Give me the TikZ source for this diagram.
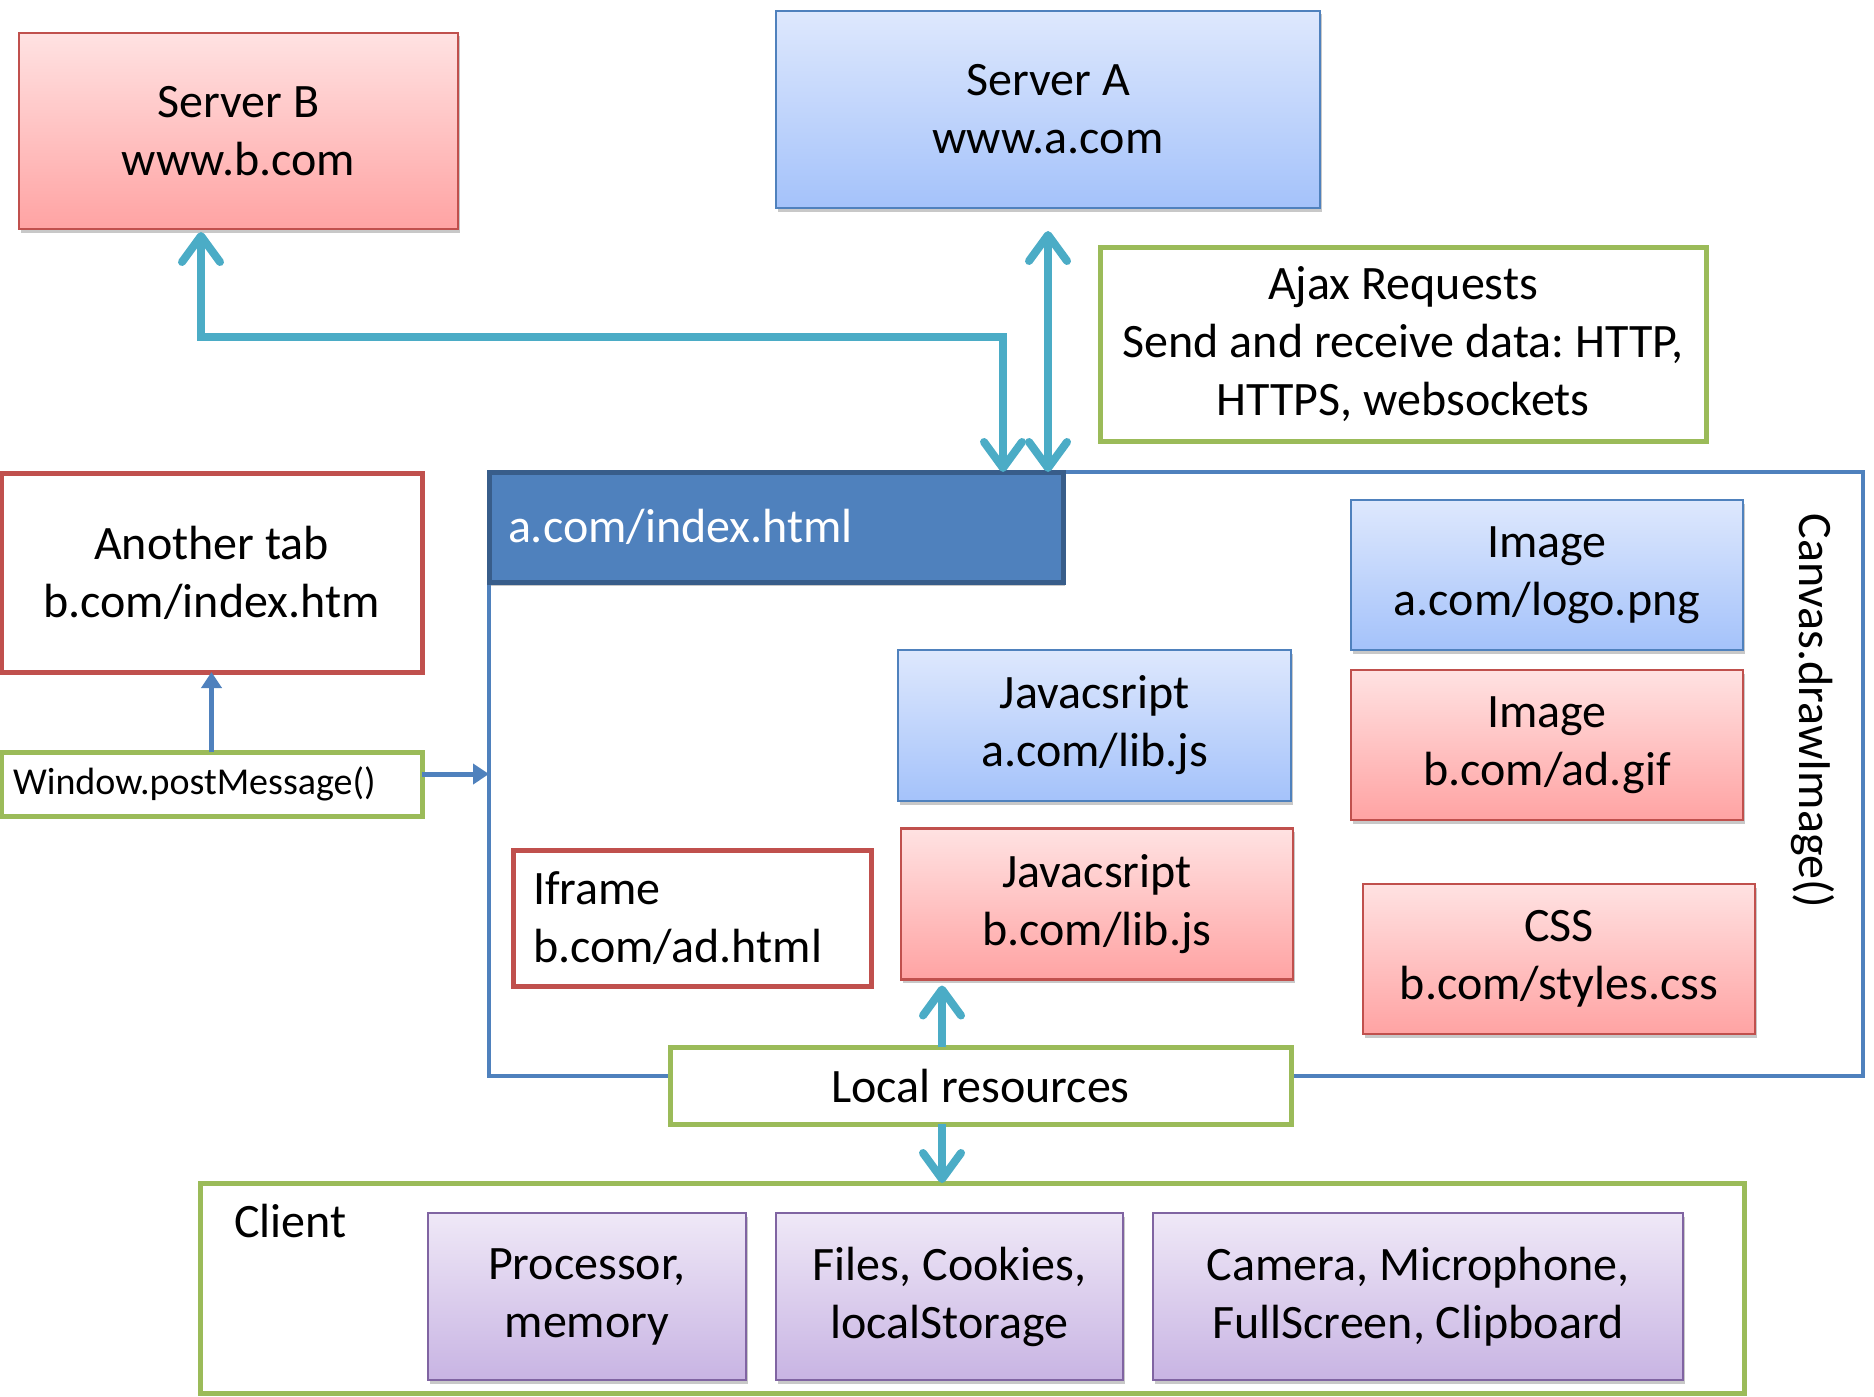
\documentclass[tikz,border=0pt]{standalone}
\usepackage{fontspec}
\setmainfont{Carlito}
\frenchspacing
\usetikzlibrary{arrows.meta,shadows}
\definecolor{redB}{HTML}{C0504D}
\definecolor{blueB}{HTML}{4F81BD}
\definecolor{blueD}{HTML}{385D8A}
\definecolor{greenB}{HTML}{9BBB59}
\definecolor{purpleB}{HTML}{8064A2}
\definecolor{cyanA}{HTML}{4BACC6}
\definecolor{redTop}{HTML}{FFE2E2}
\definecolor{redBot}{HTML}{FFA3A3}
\definecolor{blueTop}{HTML}{DEE8FD}
\definecolor{blueBot}{HTML}{A4C2FA}
\definecolor{purTop}{HTML}{EFE8F7}
\definecolor{purBot}{HTML}{C8B4E3}
\tikzset{
  base/.style={inner sep=0pt, outer sep=0pt, align=center, font=\fontsize{48}{58}\selectfont},
  shad/.style={drop shadow={shadow xshift=1.5pt, shadow yshift=-3.5pt, opacity=0.3, fill=black!70}},
  redgrad/.style={base, shad, draw=redB, line width=2.5pt, top color=redTop, bottom color=redBot},
  bluegrad/.style={base, shad, draw=blueB, line width=2.5pt, top color=blueTop, bottom color=blueBot},
  purgrad/.style={base, shad, draw=purpleB, line width=2.5pt, top color=purTop, bottom color=purBot},
  redframe/.style={base, draw=redB, line width=5pt, fill=white},
  greenframe/.style={base, draw=greenB, line width=5pt, fill=white},
  cyanarr/.style={draw=cyanA, line width=8pt, >={Straight Barb[length=26pt,width=38pt,round]}},
  bluearr/.style={draw=blueB, line width=5pt, -{Triangle[length=16pt,width=20pt]}},
}
\begin{document}
\begin{tikzpicture}[x=1pt,y=-1pt]
\useasboundingbox[fill=white] (0,0) rectangle (1874,1397);

% servers
\node[redgrad, minimum width=439pt, minimum height=196pt] (serverB) at (238.5,131) {Server B\\www.b.com};
\node[bluegrad, minimum width=544pt, minimum height=197pt] (serverA) at (1048,109.5) {Server A\\www.a.com};
\node[greenframe, minimum width=606pt, minimum height=194pt] (ajax) at (1403,344) {Ajax Requests\\Send and receive data: HTTP,\\HTTPS, websockets};

% page frame
\node[base, draw=blueB, line width=4pt, minimum width=1374pt, minimum height=604pt] (frame) at (1176,774) {};
\node[base, shad, draw=blueD, line width=5pt, fill=blueB, text=white, minimum width=574pt, minimum height=110pt,
      inner xsep=19pt, text width=536pt, align=left] (header) at (776,527) {a.com/index.html};
\node[base, rotate=-90] (canvas) at (1813,711) {Canvas.drawImage()};

% resources inside page
\node[bluegrad, minimum width=392pt, minimum height=150pt] (imga) at (1547,575) {Image\\a.com/logo.png};
\node[redgrad, minimum width=392pt, minimum height=150pt] (imgb) at (1547,745) {Image\\b.com/ad.gif};
\node[redgrad, minimum width=392pt, minimum height=150pt] (css) at (1559,959) {CSS\\b.com/styles.css};
\node[bluegrad, minimum width=393pt, minimum height=151pt] (jsa) at (1094.5,725.5) {Javacsript\\a.com/lib.js};
\node[redgrad, minimum width=392pt, minimum height=151pt] (jsb) at (1097,904) {Javacsript\\b.com/lib.js};
\node[redframe, minimum width=358pt, minimum height=136pt, inner xsep=20pt, text width=318pt, align=left] (iframe) at (692,918) {Iframe\\b.com/ad.html};
\node[greenframe, minimum width=621pt, minimum height=77pt] (local) at (980.5,1085.5) {Local resources};

% left side
\node[redframe, minimum width=421pt, minimum height=199pt] (tab) at (211.5,572.5) {Another tab\\b.com/index.htm};
\node[greenframe, minimum width=421pt, minimum height=64pt, inner xsep=12pt, text width=397pt, align=left,
      font=\fontsize{38}{45}\selectfont] (pm) at (211.5,784) {Window.postMessage()};

% client
\node[greenframe, minimum width=1544pt, minimum height=210pt] (client) at (972,1288) {};
\node[base, anchor=west] (clientlbl) at (234,1221) {Client};
\node[purgrad, minimum width=318pt, minimum height=167pt] (cpu) at (587,1296.5) {Processor,\\memory};
\node[purgrad, minimum width=347pt, minimum height=167pt] (files) at (949.5,1296.5) {Files, Cookies,\\localStorage};
\node[purgrad, minimum width=530pt, minimum height=167pt] (cam) at (1418,1296.5) {Camera, Microphone,\\FullScreen, Clipboard};

% connectors
\coordinate (bx) at (201,337);
\coordinate (ax) at (1003,337);
\coordinate (lx) at (942,1047);
\coordinate (pmy) at (0,774);
\draw[cyanarr, <->] ([yshift=-3pt]serverB.south -| bx) -- (bx) -- (ax) -- (header.north -| ax);
\draw[cyanarr, <->] ([yshift=-23pt]serverA.south) -- (header.north -| serverA.south);
\draw[cyanarr, ->] (local.north -| lx) -- ([yshift=-6pt]jsb.south -| lx);
\draw[cyanarr, ->] (local.south -| lx) -- (client.north -| lx);
\draw[bluearr] (pm.north) -- (tab.south);
\draw[bluearr] (pm.east |- pmy) -- (frame.west |- pmy);
\end{tikzpicture}
\end{document}
